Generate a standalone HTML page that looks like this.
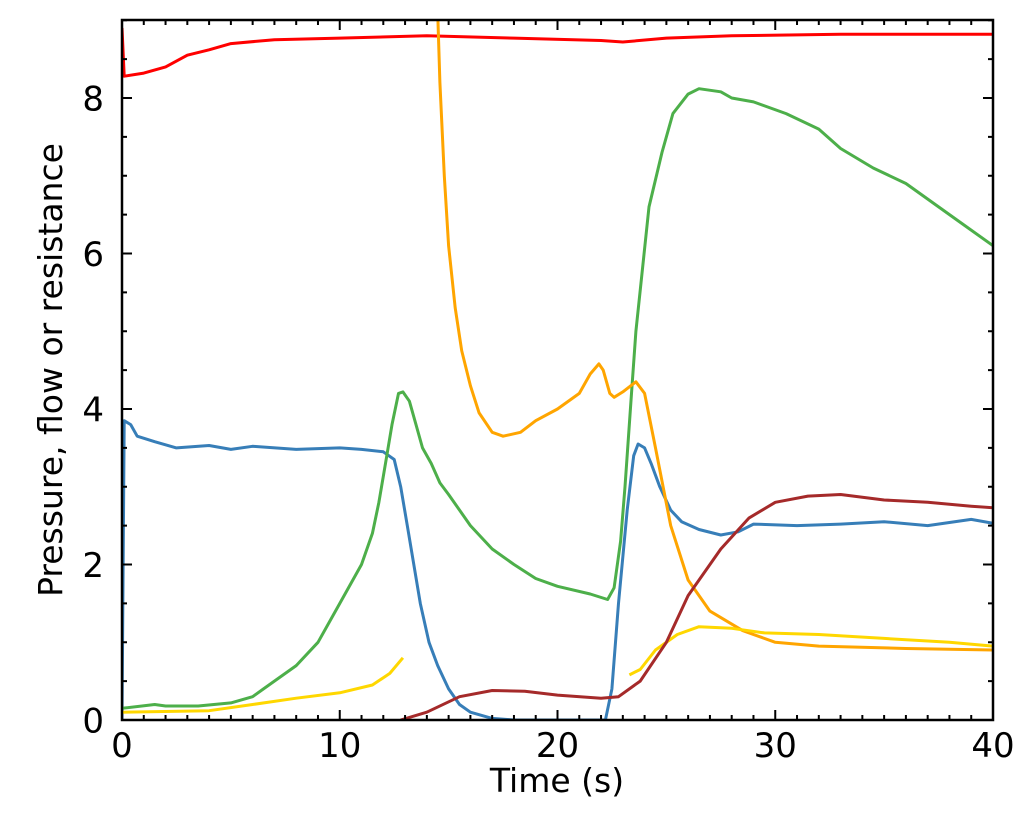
<!DOCTYPE html><html><head><style>body{margin:0;background:#fff}svg{display:block}text{font-family:"DejaVu Sans","Liberation Sans",sans-serif;fill:#000}</style></head><body>
<svg id="s" width="1024" height="819" xmlns="http://www.w3.org/2000/svg"></svg>
<script>
const X=t=>122+21.775*t,Y=v=>720-77.75*v;
const S=document.getElementById('s');let h='<defs><clipPath id="c"><rect x="122" y="20" width="871" height="700"/></clipPath></defs>';
const D={
'#ff0000':[[0,8.9],[0.1,8.28],[1,8.32],[2,8.4],[3,8.55],[4,8.62],[5,8.7],[7,8.75],[10,8.77],[14,8.8],[18,8.77],[22,8.74],[23,8.72],[25,8.77],[28,8.8],[33,8.82],[40,8.82]],
'#377eb8':[[0,0],[0.1,3.85],[0.4,3.8],[0.7,3.65],[1.5,3.58],[2.5,3.5],[4,3.53],[5,3.48],[6,3.52],[8,3.48],[10,3.5],[11,3.48],[12,3.45],[12.5,3.35],[12.8,3.0],[13.1,2.5],[13.4,2.0],[13.7,1.5],[14.1,1.0],[14.5,0.7],[15,0.4],[15.5,0.2],[16,0.1],[17,0.02],[18,0],[22.2,0],[22.5,0.4],[22.8,1.5],[23.2,2.7],[23.5,3.4],[23.7,3.55],[24.0,3.5],[24.3,3.3],[24.7,3.0],[25.2,2.7],[25.7,2.55],[26.5,2.45],[27.5,2.38],[28.3,2.42],[29,2.52],[31,2.5],[33,2.52],[35,2.55],[37,2.5],[39,2.58],[40,2.53]],
'#4daf4a':[[0,0.15],[1.5,0.2],[2,0.18],[3.5,0.18],[5,0.22],[6,0.3],[6.5,0.4],[8,0.7],[9,1.0],[10,1.5],[11,2.0],[11.5,2.4],[11.8,2.8],[12.1,3.3],[12.4,3.8],[12.7,4.2],[12.9,4.22],[13.2,4.1],[13.5,3.8],[13.8,3.5],[14.2,3.3],[14.6,3.05],[15,2.9],[16,2.5],[17,2.2],[18,2.0],[19,1.82],[20,1.72],[21.5,1.62],[22.3,1.55],[22.6,1.7],[22.9,2.3],[23.1,3],[23.4,4.2],[23.6,5],[24.2,6.6],[24.8,7.3],[25.3,7.8],[26,8.05],[26.5,8.12],[27.5,8.08],[28,8.0],[29,7.95],[30.5,7.8],[32,7.6],[33,7.35],[34.5,7.1],[36,6.9],[37.5,6.6],[38.5,6.4],[40,6.1]],
'#ffa500':[[14.5,9.1],[14.6,8.2],[14.8,7],[15.0,6.1],[15.3,5.3],[15.6,4.75],[16.0,4.3],[16.4,3.95],[17,3.7],[17.5,3.65],[18.3,3.7],[19,3.85],[20,4.0],[21,4.2],[21.5,4.45],[21.9,4.58],[22.1,4.5],[22.4,4.2],[22.6,4.15],[23,4.22],[23.6,4.35],[24,4.2],[24.5,3.5],[25.2,2.5],[26,1.8],[27,1.4],[28.5,1.15],[30,1.0],[32,0.95],[36,0.92],[40,0.9]],
'#ffd700':[[0,0.1],[4,0.12],[6,0.2],[8,0.28],[10,0.35],[11.5,0.45],[12.3,0.6],[12.9,0.8]],
'#ffd701':[[23.3,0.58],[23.8,0.65],[24.5,0.9],[25.5,1.1],[26.5,1.2],[28,1.18],[29.5,1.12],[32,1.1],[35,1.05],[38,1.0],[40,0.95]],
'#a52a2a':[[12.8,0],[14,0.1],[15.5,0.3],[17,0.38],[18.5,0.37],[20,0.32],[22,0.28],[22.8,0.3],[23.8,0.5],[25,1.0],[26,1.6],[27.5,2.2],[28.8,2.6],[30,2.8],[31.5,2.88],[33,2.9],[35,2.83],[37,2.8],[39,2.75],[40,2.73]]};
for(const k in D){const c=k=='#ffd701'?'#ffd700':k;h+='<polyline clip-path="url(#c)" fill="none" stroke="'+c+'" stroke-width="3" stroke-linejoin="round" points="'+D[k].map(p=>X(p[0]).toFixed(1)+','+Y(p[1]).toFixed(1)).join(' ')+'"/>';}
let t='';
for(let i=0;i<=40;i++){const x=X(i),L=i%10?5:10;t+=`M${x} 720v-${L}M${x} 20v${L}`;if(i%10==0)h+=`<text x="${x}" y="757" font-size="34" text-anchor="middle">${i}</text>`;}
for(let v=0;v<=9;v+=0.5){const y=Y(v),L=(v%2==0)?10:5;t+=`M122 ${y}h${L}M993 ${y}h-${L}`;if(v%2==0)h+=`<text x="104" y="${y+12.5}" font-size="34" text-anchor="end">${v}</text>`;}
h+=`<path d="${t}" stroke="#000" stroke-width="2" fill="none"/><rect x="122" y="20" width="871" height="700" fill="none" stroke="#000" stroke-width="2.5"/>`;
h+='<text x="557" y="792" font-size="33" text-anchor="middle">Time (s)</text><text transform="translate(62 370) rotate(-90)" font-size="33" text-anchor="middle">Pressure, flow or resistance</text>';
S.innerHTML=h;
</script></body></html>
